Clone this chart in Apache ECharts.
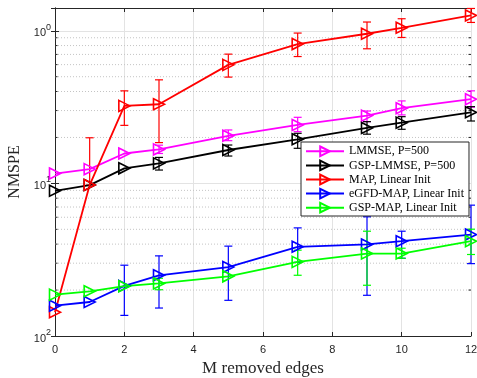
<!DOCTYPE html>
<html><head><meta charset="utf-8">
<script src="https://cdn.jsdelivr.net/npm/echarts@6/dist/echarts.min.js"></script>
<style>html,body{margin:0;padding:0;background:#fff}#c{width:477px;height:378px}</style>
</head><body><div id="c"></div>
<script>
// ---- data ----
const xVals = [0, 1, 2, 3, 5, 7, 9, 10, 12];
const seriesNames = ['LMMSE, P=500', 'GSP-LMMSE, P=500', 'MAP, Linear Init', 'eGFD-MAP, Linear Init', 'GSP-MAP, Linear Init'];
const seriesColors = ['#ff00ff', '#000000', '#ff0000', '#0000ff', '#00ff00'];

const lmmse     = [0.116, 0.124, 0.157, 0.167, 0.205, 0.2415, 0.278, 0.311, 0.356];
const lmmseLow  = [0.116, 0.124, 0.157, 0.157, 0.1905, 0.2183, 0.254, 0.281, 0.316];
const lmmseHigh = [0.116, 0.124, 0.157, 0.178, 0.2239, 0.271, 0.298, 0.347, 0.404];

const gspLmmse     = [0.0894, 0.0975, 0.1255, 0.1353, 0.1655, 0.1945, 0.2307, 0.2500, 0.2924];
const gspLmmseLow  = [0.0894, 0.0975, 0.1255, 0.1223, 0.1511, 0.1698, 0.2101, 0.2262, 0.2563];
const gspLmmseHigh = [0.0894, 0.0975, 0.1255, 0.1480, 0.1784, 0.2129, 0.2538, 0.2736, 0.3183];

const mapLin     = [0.0143, 0.0975, 0.322, 0.330, 0.598, 0.818, 0.956, 1.046, 1.26];
const mapLinLow  = [0.0143, 0.0975, 0.240, 0.185, 0.497, 0.678, 0.762, 0.904, 1.134];
const mapLinHigh = [0.0143, 0.199, 0.404, 0.477, 0.703, 0.966, 1.141, 1.199, 1.40];

const egfd     = [0.0158, 0.0167, 0.0213, 0.0250, 0.0283, 0.0384, 0.0398, 0.0418, 0.0462];
const egfdLow  = [0.0158, 0.0167, 0.01365, 0.01525, 0.01713, 0.0304, 0.01848, 0.0323, 0.0298];
const egfdHigh = [0.0158, 0.0167, 0.0291, 0.0335, 0.0388, 0.0511, 0.0604, 0.0486, 0.072];

const gspMap     = [0.01867, 0.01963, 0.0212, 0.0221, 0.0246, 0.0306, 0.0347, 0.0347, 0.0418];
const gspMapLow  = [0.01867, 0.01963, 0.0212, 0.0201, 0.0246, 0.0250, 0.0215, 0.0323, 0.0342];
const gspMapHigh = [0.01867, 0.01963, 0.0212, 0.0239, 0.0246, 0.0365, 0.0486, 0.0376, 0.0501];

const xTicks = [0, 2, 4, 6, 8, 10, 12];
const yMajorTicks = [0.01, 0.1, 1];
const yTickBase = '10';
const yTickExponents = ['2', '1', '0'];
const yMinorTicks = [0.02, 0.03, 0.04, 0.05, 0.06, 0.07, 0.08, 0.09, 0.2, 0.3, 0.4, 0.5, 0.6, 0.7, 0.8, 0.9];
const yMin = 0.01, yMax = 1.41;

// ---- chart ----
const SERIF = '"Liberation Serif", "DejaVu Serif", serif';
const SANS = '"Liberation Sans", Arial, sans-serif';
const AX = '#262626';
const tri = 'path://M0,0 L10,5 L0,10 Z';

function errSeries(color, low, high) {
  return {
    type: 'custom', silent: true, xAxisIndex: 0, yAxisIndex: 0,
    encode: { x: 0, y: 1 },
    data: xVals.map((x, i) => [x, low[i], high[i]]),
    renderItem(params, api) {
      const x = api.value(0), lo = api.value(1), hi = api.value(2);
      if (Math.abs(hi - lo) < 1e-9) return { type: 'group', children: [] };
      const p1 = api.coord([x, hi]), p2 = api.coord([x, lo]);
      const cw = 4;
      const st = { stroke: color, lineWidth: 1.2 };
      return { type: 'group', children: [
        { type: 'line', shape: { x1: p1[0], y1: p1[1], x2: p2[0], y2: p2[1] }, style: st },
        { type: 'line', shape: { x1: p1[0] - cw, y1: p1[1], x2: p1[0] + cw, y2: p1[1] }, style: st },
        { type: 'line', shape: { x1: p2[0] - cw, y1: p2[1], x2: p2[0] + cw, y2: p2[1] }, style: st }
      ]};
    }
  };
}

function lineSeries(name, color, vals) {
  return {
    name, type: 'line', data: xVals.map((x, i) => [x, vals[i]]),
    symbol: tri, symbolSize: [11, 11], showAllSymbol: true,
    lineStyle: { color, width: 1.8 },
    itemStyle: { color: 'none', borderColor: color, borderWidth: 1.6 },
    emphasis: { disabled: true }
  };
}

const minorGrid = {
  type: 'custom', silent: true, z: 1,
  encode: { x: 0, y: 1 },
  data: yMinorTicks.map(v => [0, v]),
  renderItem(params, api) {
    const y = api.coord([0, api.value(1)])[1];
    const cs = params.coordSys;
    return { type: 'group', children: [
      { type: 'line', shape: { x1: cs.x, y1: y, x2: cs.x + cs.width, y2: y },
        style: { stroke: '#c4c4c4', lineWidth: 1, lineDash: [1, 2] } },
      { type: 'line', shape: { x1: cs.x, y1: y, x2: cs.x + 2.5, y2: y }, style: { stroke: AX, lineWidth: 1 } },
      { type: 'line', shape: { x1: cs.x + cs.width - 2.5, y1: y, x2: cs.x + cs.width, y2: y }, style: { stroke: AX, lineWidth: 1 } }
    ]};
  }
};

const chart = echarts.init(document.getElementById('c'));
const allVals = [lmmse, gspLmmse, mapLin, egfd, gspMap];
const allLow = [lmmseLow, gspLmmseLow, mapLinLow, egfdLow, gspMapLow];
const allHigh = [lmmseHigh, gspLmmseHigh, mapLinHigh, egfdHigh, gspMapHigh];
const series = [minorGrid];
for (let i = 0; i < 5; i++) {
  series.push(errSeries(seriesColors[i], allLow[i], allHigh[i]));
  series.push(lineSeries(seriesNames[i], seriesColors[i], allVals[i]));
}

function yLabel(v) {
  for (let i = 0; i < yMajorTicks.length; i++) {
    if (Math.abs(Math.log10(v) - Math.log10(yMajorTicks[i])) < 1e-6) return '{b|' + yTickBase + '}{s|' + yTickExponents[i] + '}';
  }
  return '';
}

chart.setOption({
  animation: false,
  backgroundColor: '#fff',
  grid: { left: 55, right: 6, top: 8, bottom: 42, containLabel: false, outerBoundsMode: 'none' },
  legend: {
    orient: 'vertical', left: 301, top: 142, padding: [2, 5, 1, 4], itemGap: -0.5,
    itemWidth: 38, itemHeight: 12, backgroundColor: '#fff', borderColor: AX, borderWidth: 1,
    textStyle: { fontFamily: SERIF, fontSize: 12, color: '#000' },
    data: seriesNames, selectedMode: false
  },
  xAxis: [
    { type: 'value', min: xTicks[0], max: xTicks[xTicks.length - 1], interval: 2, position: 'bottom',
      axisLine: { show: true, onZero: false, lineStyle: { color: AX } },
      axisTick: { show: true, inside: true, length: 4, lineStyle: { color: AX } },
      axisLabel: { fontFamily: SANS, fontSize: 11, color: AX, margin: 8 },
      splitLine: { show: true, lineStyle: { color: '#e3e3e3' } },
      name: 'M removed edges', nameLocation: 'middle', nameGap: 23,
      nameTextStyle: { fontFamily: SERIF, fontSize: 17, color: AX } },
    { type: 'value', min: xTicks[0], max: xTicks[xTicks.length - 1], interval: 2, position: 'top',
      axisLine: { show: true, onZero: false, lineStyle: { color: AX } },
      axisTick: { show: true, inside: true, length: 4, lineStyle: { color: AX } },
      axisLabel: { show: false }, splitLine: { show: false } }
  ],
  yAxis: [
    { type: 'log', logBase: 10, min: yMin, max: yMax, position: 'left',
      axisLine: { show: true, lineStyle: { color: AX } },
      axisTick: { show: true, inside: true, length: 4, lineStyle: { color: AX } },
      axisLabel: { color: AX, margin: 4, formatter: yLabel,
        rich: {
          b: { fontFamily: SANS, fontSize: 11, color: AX, lineHeight: 16, verticalAlign: 'bottom' },
          s: { fontFamily: SANS, fontSize: 9, color: AX, lineHeight: 16, verticalAlign: 'top', padding: [0, 0, 6, 0] }
        } },
      splitLine: { show: true, lineStyle: { color: '#e3e3e3' } },
      name: 'NMSPE', nameLocation: 'middle', nameGap: 28, nameRotate: 90,
      nameTextStyle: { fontFamily: SERIF, fontSize: 16, color: AX } },
    { type: 'log', logBase: 10, min: yMin, max: yMax, position: 'right',
      axisLine: { show: true, lineStyle: { color: AX } },
      axisTick: { show: true, inside: true, length: 4, lineStyle: { color: AX } },
      axisLabel: { show: false }, splitLine: { show: false } }
  ],
  series
});
</script></body></html>
